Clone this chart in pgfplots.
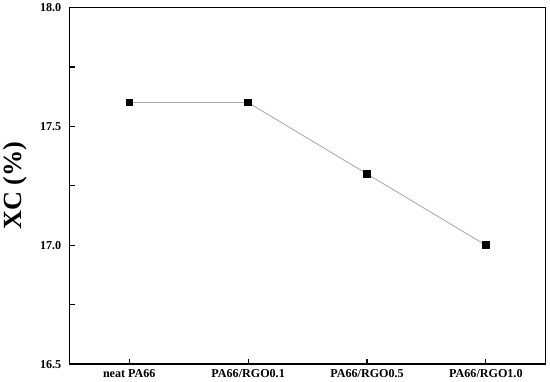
\documentclass[border=0pt]{standalone}
\usepackage{fontspec}
\setmainfont{Liberation Serif}
\usepackage{pgfplots}
\pgfplotsset{compat=1.18}

\begin{document}
\begin{tikzpicture}
\begin{axis}[
  scale only axis, width=472pt, height=354pt,
  xmin=-0.5, xmax=3.5, ymin=16.5, ymax=18.0,
  xtick={0,1,2,3},
  xticklabels={neat PA66, PA66/RGO0.1, PA66/RGO0.5, PA66/RGO1.0},
  ytick={16.5,17.0,17.5,18.0},
  minor ytick={16.75,17.25,17.75},
  yticklabel={\pgfmathprintnumber[fixed,fixed zerofill,precision=1,assume math mode=true]{\tick}},
  ticklabel style={font=\bfseries\fontsize{12}{14}\selectfont},
  yticklabel style={xshift=-5pt},
  xticklabel style={yshift=-2pt},
  tick align=inside, tick pos=left,
  major tick length=5pt, minor tick length=5pt,
  major tick style={black, line width=1.2pt},
  minor tick style={black, line width=1.2pt},
  axis line style={line width=1.3pt},
  ylabel={XC (\%)},
  ylabel style={font=\bfseries\fontsize{26}{30}\selectfont, yshift=6pt},
  clip=false,
]
\addplot[gray!70, line width=0.8pt, mark=square*, mark size=3.3pt,
  mark options={fill=black, draw=black}]
  coordinates {(0,17.6) (1,17.6) (2,17.3) (3,17.0)};
\end{axis}
\path (current bounding box.east) ++(4pt,0) coordinate (r);
\path (r) circle (0pt);
\end{tikzpicture}
\end{document}
